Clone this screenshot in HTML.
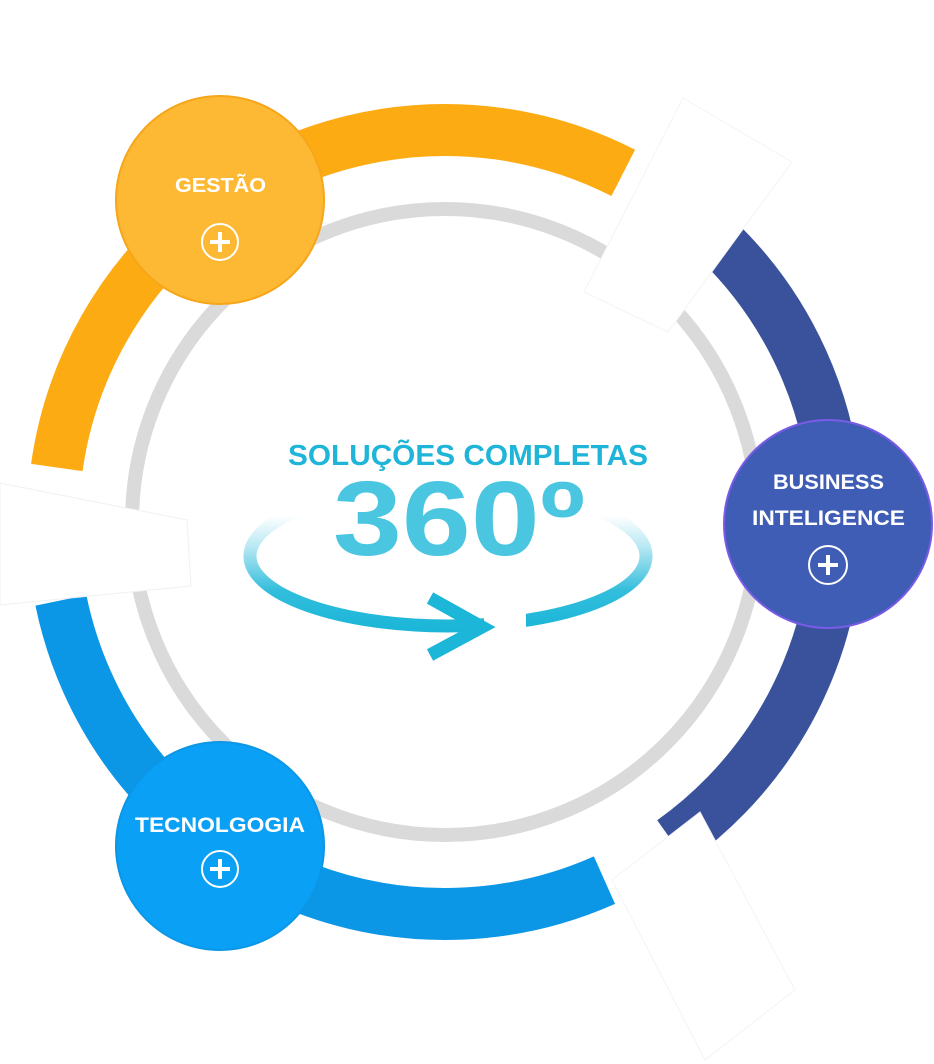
<!DOCTYPE html>
<html><head><meta charset="utf-8"><style>
html,body{margin:0;padding:0;background:#fff;}
svg{display:block;}
text{font-family:"Liberation Sans",sans-serif;}
</style></head><body>
<svg width="934" height="1064" viewBox="0 0 934 1064">
<defs>
<linearGradient id="fade" gradientUnits="userSpaceOnUse" x1="0" y1="500" x2="0" y2="630">
<stop offset="0" stop-color="#1bb6d8" stop-opacity="0"/>
<stop offset="0.12" stop-color="#1bb6d8" stop-opacity="0"/>
<stop offset="0.35" stop-color="#1bb6d8" stop-opacity="0.3"/>
<stop offset="0.7" stop-color="#1bb6d8" stop-opacity="0.9"/>
<stop offset="1" stop-color="#1bb6d8" stop-opacity="1"/>
</linearGradient>
</defs>
<!-- gray ring -->
<circle cx="445" cy="522" r="313" fill="none" stroke="#dadada" stroke-width="14"/>
<!-- colored arcs -->
<circle cx="445" cy="522" r="392" fill="none" stroke="#fdab12" stroke-width="52" stroke-dasharray="746 3000" transform="rotate(188 445 522)"/>
<circle cx="445" cy="522" r="392" fill="none" stroke="#3a529c" stroke-width="52" stroke-dasharray="688 3000" transform="rotate(314 445 522)"/>
<circle cx="445" cy="522" r="392" fill="none" stroke="#0b96e6" stroke-width="52" stroke-dasharray="701 3000" transform="rotate(66 445 522)"/>
<!-- white cut shapes -->
<polygon points="0,483 187,520 191,586 0,605" fill="#fff" stroke="#eef0f2" stroke-width="1"/>
<polygon points="683,98 792,162 668,332 584,292" fill="#fff" stroke="#f3f4f6" stroke-width="1"/>
<polygon points="612,880 700,812 795,990 705,1060" fill="#fff" stroke="#f3f4f6" stroke-width="1"/>
<!-- center -->
<text x="288" y="465" textLength="360" lengthAdjust="spacingAndGlyphs" font-size="29" font-weight="bold" fill="#1fb5d8">SOLUÇÕES COMPLETAS</text>
<ellipse cx="448" cy="556" rx="198" ry="70" fill="none" stroke="url(#fade)" stroke-width="13"/>
<rect x="484" y="605" width="42" height="35" fill="#fff"/>
<text x="333" y="555" textLength="252" lengthAdjust="spacingAndGlyphs" font-size="106" font-weight="bold" fill="#4ac6e0">360º</text>
<path d="M 430 598 L 482 627 L 430 655" fill="none" stroke="#1bb6d8" stroke-width="13"/>
<!-- Gestão -->
<circle cx="220" cy="200" r="104" fill="#fdb933" stroke="#f7a51a" stroke-width="2"/>
<text x="175" y="192" textLength="91" lengthAdjust="spacingAndGlyphs" font-size="20" font-weight="bold" fill="#fff">GESTÃO</text>
<circle cx="220" cy="242" r="18" fill="none" stroke="#fff" stroke-width="2"/>
<path d="M220 232v20M210 242h20" stroke="#fff" stroke-width="4"/>
<!-- Business -->
<circle cx="828" cy="524" r="104" fill="#3f5db5" stroke="#7a5be6" stroke-width="2"/>
<text x="773" y="489" textLength="111" lengthAdjust="spacingAndGlyphs" font-size="21" font-weight="bold" fill="#fff">BUSINESS</text>
<text x="752" y="525" textLength="153" lengthAdjust="spacingAndGlyphs" font-size="21" font-weight="bold" fill="#fff">INTELIGENCE</text>
<circle cx="828" cy="565" r="19" fill="none" stroke="#fff" stroke-width="2"/>
<path d="M828 555v20M818 565h20" stroke="#fff" stroke-width="4"/>
<!-- Tecnologia -->
<circle cx="220" cy="846" r="104" fill="#0aa0f5" stroke="#0b96e6" stroke-width="2"/>
<text x="135" y="832" textLength="170" lengthAdjust="spacingAndGlyphs" font-size="21" font-weight="bold" fill="#fff">TECNOLGOGIA</text>
<circle cx="220" cy="869" r="18" fill="none" stroke="#fff" stroke-width="2"/>
<path d="M220 859v20M210 869h20" stroke="#fff" stroke-width="4"/>
</svg>
</body></html>
